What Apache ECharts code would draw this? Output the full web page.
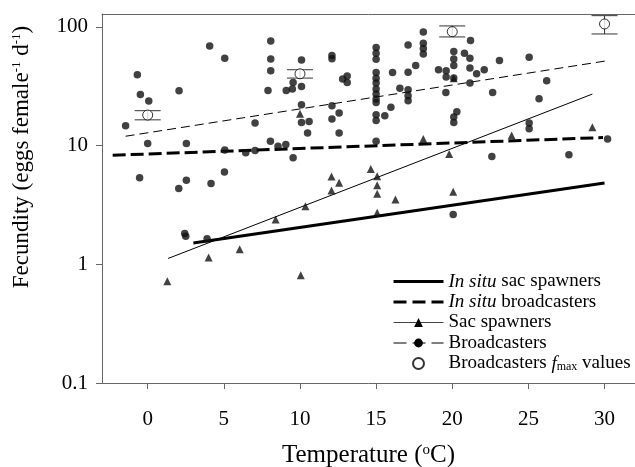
<!DOCTYPE html>
<html><head><meta charset="utf-8">
<script src="https://cdn.jsdelivr.net/npm/echarts@6/dist/echarts.min.js"></script>
<style>html,body{margin:0;padding:0;background:#fff}#c{width:635px;height:467px}</style>
</head><body><div id="c"></div>
<script>
const F = "'Liberation Serif','DejaVu Serif',serif";
const xTicks = [0, 5, 10, 15, 20, 25, 30];
const yTicks = [0.1, 1, 10, 100];

const broadcasters = [
  [-1.45,14.7],[-0.68,39.5],[-0.48,27],[0.07,23.8],[0.0,10.4],[-0.53,5.36],
  [2.06,29],[2.54,10.4],[2.04,4.36],[2.54,5.1],[2.43,1.82],[2.5,1.72],[3.9,1.64],
  [4.07,69],[4.16,4.8],[5.06,54.6],[5.06,9.2],[5.04,6.0],[6.44,8.7],[7.05,9.1],[7.05,15.5],
  [7.9,29.2],[8.08,76],[8.08,53.8],[8.08,42.7],[8.06,10.9],[8.56,9.9],[9.07,10.2],
  [9.1,29.2],[9.5,30],[9.55,34],[9.55,7.9],
  [10.1,52.8],[10.1,31.5],[10.1,22.1],[10.1,15.7],[10.6,16],[10.5,12.8],
  [12.1,57.6],[12.1,54],[12.8,36.5],[13.1,38.7],[13.1,34],[12.1,21.7],[12.1,16.8],[12.57,18.8],[12.57,12.8],
  [15,67],[15,60],[15,53.5],[15,41.3],[15,37],[15,33.7],[15,30],[15,27.3],[15,24.7],[15,23.1],[15,18.2],[15,16.3],[15,10.9],
  [15.57,17.9],[16.08,41.3],[15.97,21.1],[16.56,30.5],
  [17.1,70.6],[17.1,41.6],[17.1,29.6],[17.1,26.3],[17.1,23.9],[17.6,47.3],
  [18.1,90.8],[18.1,73],[18.1,66],[18.1,59.3],
  [21.2,76.8],[20.1,62],[20.8,60],[20.1,53.8],[20.1,47.3],[21.16,54.6],
  [19.1,43.6],[19.6,42.7],[19.6,37.8],[20.1,37.1],[21.16,45],[21.6,40.3],[22.1,43.6],
  [23.1,52.1],[25.05,55.6],[21.16,33.7],[19.58,28.1],[22.65,28.1],
  [20.3,19.3],[20.1,17.4],[20.1,15.7],[25.05,15.5],[25.05,13.9],[22.6,8.1],
  [26.2,35.2],[25.7,24.8],[27.66,8.4],[30.2,11.4],[20.06,2.63]
];
const sacSpawners = [
  [1.29,0.72],[4.0,1.14],[6.04,1.34],[10.05,0.81],[8.4,2.39],[10.36,3.09],
  [12.07,5.5],[12.57,4.86],[12.07,4.19],[14.65,6.37],[15.07,5.52],[15.07,4.64],
  [15.07,3.93],[16.27,3.52],[20.06,4.08],[15.07,2.72],[18.1,11.4],[19.8,8.5],
  [23.9,12.2],[29.2,14.3],[10.0,18.6],[20.1,37]
];
const fmaxValues = [[0,18.1],[10,40.3],[20,91.3],[30,106]];
const fmaxErrors = [[0,16.5,19.7],[10,37.1,43.6],[20,82.4,102],[30,87.3,124.5]];
const sacFit = [[1.34,1.12],[29.2,27.2]];
const broadFit = [[-1.45,12],[30.2,52]];
const inSituSacFit = [[3.0,1.51],[30,4.85]];
const inSituBroadFit = [[-2.3,8.3],[29.9,11.7]];

const legendNames = ['In situ sac spawners','In situ broadcasters','Sac spawners','Broadcasters','Broadcasters fmax values'];
const legendLabels = {
  'In situ sac spawners': '{i|In situ} sac spawners',
  'In situ broadcasters': '{i|In situ} broadcasters',
  'Sac spawners': 'Sac spawners',
  'Broadcasters': 'Broadcasters',
  'Broadcasters fmax values': 'Broadcasters {i|f}{sub|max} values'
};
const legendLineStyles = [
  {width: 3, type: 'solid', color: '#000'},
  {width: 3, type: [13, 6], color: '#000'},
  {width: 1, type: 'solid', color: '#444'},
  {width: 1, type: [13, 6], color: '#000'},
  {}
];

const chart = echarts.init(document.getElementById('c'), null, {renderer: 'canvas'});
const axisGray = '#666';
chart.setOption({
  backgroundColor: '#fff',
  animation: false,
  grid: {left: 102, right: 0, top: 14, bottom: 84, containLabel: false, outerBoundsMode: 'none'},
  xAxis: [{
    type: 'value', min: -3, max: 32, position: 'bottom',
    axisLine: {show: true, onZero: false, lineStyle: {color: axisGray, width: 1}},
    axisTick: {show: true, length: 6, customValues: xTicks, lineStyle: {color: axisGray}},
    axisLabel: {customValues: xTicks, fontFamily: F, fontSize: 21, color: '#000', margin: 26},
    splitLine: {show: false},
    name: 'Temperature ({sup|o}C)', nameLocation: 'middle', nameGap: 60,
    nameTextStyle: {fontFamily: F, fontSize: 25, color: '#000',
      rich: {sup: {fontFamily: F, fontSize: 15, color: '#000', verticalAlign: 'top'}}}
  }, {
    type: 'value', min: -3, max: 32, position: 'top',
    axisLine: {show: true, onZero: false, lineStyle: {color: axisGray, width: 1}},
    axisTick: {show: false}, axisLabel: {show: false}, splitLine: {show: false}
  }],
  yAxis: {
    type: 'log', logBase: 10, min: 0.1, max: 128.6,
    axisLine: {show: true, onZero: false, lineStyle: {color: axisGray, width: 1}},
    axisTick: {show: true, length: 6, customValues: yTicks, lineStyle: {color: axisGray}},
    axisLabel: {customValues: yTicks, fontFamily: F, fontSize: 21, color: '#000', margin: 14},
    splitLine: {show: false}
  },
  graphic: [{
    type: 'text', x: 22, y: 157, rotation: Math.PI / 2,
    style: {
      text: 'Fecundity (eggs female{sup|-1} d{sup|-1})',
      fontFamily: F, fontSize: 23, fill: '#000', align: 'center', verticalAlign: 'middle',
      rich: {sup: {fontFamily: F, fontSize: 13, fill: '#000', verticalAlign: 'top'}}
    }
  }],
  legend: {
    orient: 'vertical', left: 387, top: 267, itemWidth: 50, itemHeight: 11, itemGap: 1.5,
    selectedMode: false,
    data: legendNames.map((n, i) => ({name: n, lineStyle: legendLineStyles[i]})),
    formatter: name => legendLabels[name],
    textStyle: {fontFamily: F, fontSize: 19, color: '#000', lineHeight: 19,
      rich: {
        i: {fontFamily: F, fontSize: 19, fontStyle: 'italic', color: '#000'},
        sub: {fontFamily: F, fontSize: 12, color: '#000', verticalAlign: 'bottom'}
      }}
  },
  series: [
    {name: 'In situ sac spawners', type: 'line', data: inSituSacFit, symbol: 'none', silent: true,
      itemStyle: {color: 'rgba(0,0,0,0)'}, lineStyle: {color: '#000', width: 3}, z: 2},
    {name: 'In situ broadcasters', type: 'line', data: inSituBroadFit, symbol: 'none', silent: true,
      itemStyle: {color: 'rgba(0,0,0,0)'}, lineStyle: {color: '#000', width: 3, type: [13, 5]}, z: 2},
    {name: 'Sac spawners', type: 'line', data: sacFit, symbol: 'triangle', showSymbol: false, silent: true,
      itemStyle: {color: '#000'}, lineStyle: {color: '#000', width: 1}, z: 2},
    {name: 'Broadcasters', type: 'line', data: broadFit, symbol: 'circle', showSymbol: false, silent: true,
      itemStyle: {color: '#000'}, lineStyle: {color: '#000', width: 1, type: [9, 5]}, z: 2},
    {name: 'Sac spawners', type: 'scatter', data: sacSpawners, symbol: 'triangle', symbolSize: 8,
      itemStyle: {color: '#111'}, z: 3},
    {name: 'Broadcasters', type: 'scatter', data: broadcasters, symbol: 'circle', symbolSize: 7.5,
      itemStyle: {color: '#111'}, z: 3},
    {name: 'fmaxErr', type: 'custom', data: fmaxErrors, encode: {x: 0, y: [1, 2]}, z: 4, silent: true,
      renderItem: function (params, api) {
        const x = api.value(0), lo = api.value(1), hi = api.value(2);
        const pLo = api.coord([x, lo]), pHi = api.coord([x, hi]);
        const hw = 13, st = {stroke: '#333', lineWidth: 1};
        return {type: 'group', children: [
          {type: 'line', shape: {x1: pLo[0], y1: pLo[1], x2: pHi[0], y2: pHi[1]}, style: st},
          {type: 'line', shape: {x1: pLo[0] - hw, y1: pLo[1], x2: pLo[0] + hw, y2: pLo[1]}, style: st},
          {type: 'line', shape: {x1: pHi[0] - hw, y1: pHi[1], x2: pHi[0] + hw, y2: pHi[1]}, style: st}
        ]};
      }},
    {name: 'Broadcasters fmax values', type: 'scatter', data: fmaxValues, symbol: 'circle', symbolSize: 10,
      itemStyle: {color: '#fff', borderColor: '#000', borderWidth: 1}, z: 5}
  ]
});
</script></body></html>
